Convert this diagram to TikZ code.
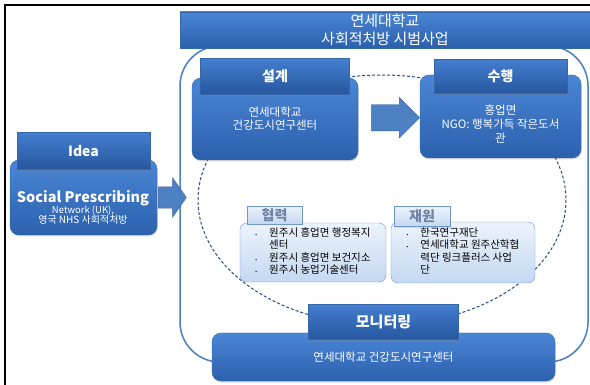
\documentclass[tikz,border=0pt]{standalone}
\usepackage{fontspec}
\setmainfont{Noto Sans CJK KR}
\usetikzlibrary{positioning, calc, shapes.arrows, shadows}

\definecolor{frameblue}{RGB}{75,125,195}
\definecolor{loopblue}{RGB}{40,75,140}
\definecolor{boxtop}{RGB}{74,134,214}
\definecolor{boxbottom}{RGB}{44,96,172}
\definecolor{boxedge}{RGB}{52,102,172}
\definecolor{tabtop}{RGB}{68,126,206}
\definecolor{tabbottom}{RGB}{38,86,158}
\definecolor{lighttop}{RGB}{236,243,252}
\definecolor{lightbottom}{RGB}{196,216,242}
\definecolor{lightedge}{RGB}{112,150,208}
\definecolor{tabgray}{RGB}{112,130,165}
\definecolor{arrowblue}{RGB}{78,128,196}
\definecolor{arrowedge}{RGB}{55,95,160}

\begin{document}
\begin{tikzpicture}
    [
        x=1pt, y=-1pt,
        blue_box/.style={rectangle, rounded corners=9pt, draw=boxedge, top color=boxtop, bottom color=boxbottom, text=white, align=center, inner sep=0pt, drop shadow={opacity=0.3, shadow xshift=0.8pt, shadow yshift=-1.5pt}},
        blue_tab/.style={rectangle, draw=boxedge, top color=tabtop, bottom color=tabbottom, text=white, inner sep=0pt, font=\fontsize{14}{16}\selectfont\bfseries, drop shadow={opacity=0.35, shadow xshift=0.8pt, shadow yshift=-1.5pt}},
        light_box/.style={rectangle, rounded corners=7pt, draw=lightedge, top color=lighttop, bottom color=lightbottom, inner sep=0pt, font=\fontsize{10.5}{12.5}\selectfont},
        light_tab/.style={rectangle, draw=lightedge, top color=lighttop, bottom color=lightbottom, text=tabgray, inner sep=0pt, font=\fontsize{14}{16}\selectfont\bfseries, drop shadow={opacity=0.2, shadow xshift=0.6pt, shadow yshift=-1pt}},
        white_text/.style={text=white, align=center, inner sep=0pt},
        big_arrow/.style={single arrow, draw=arrowedge, fill=arrowblue, inner sep=0pt, text width=0pt},
        frame_line/.style={draw=frameblue, line width=1.5pt, rounded corners=40pt},
        loop_line/.style={draw=loopblue, line width=1pt, dash pattern=on 3pt off 2pt},
    ]
    \useasboundingbox (0,0) rectangle (590,385);
    \draw[line width=1.2pt] (5,385) -- (5,5) -- (590,5);

    % outer frame and the dashed cycle
    \node[frame_line, minimum width=408pt, minimum height=316pt] (frame) at (384,204) {};
    \draw[loop_line] (382,200) ellipse [x radius=184, y radius=125];

    \node[blue_box, rounded corners=0pt, minimum width=410pt, minimum height=36pt, font=\fontsize{15}{18}\selectfont] (title) at (385,30) {연세대학교\\사회적처방 시범사업};

    % idea
    \node[blue_box, minimum width=147pt, minimum height=75pt] (ideaBody) at (83.5,197.5) {};
    \node[blue_tab, minimum width=133pt, minimum height=37pt] (ideaTab) [above=-10pt of ideaBody] {Idea};
    \node[white_text] (ideaText) at (83,207) {{\fontsize{14.5}{15}\selectfont\bfseries Social Prescribing}\\[-1pt]{\fontsize{9.5}{10}\selectfont Network (UK),}\\[-2pt]{\fontsize{10}{10}\selectfont 영국 NHS 사회적처방}};
    \node[big_arrow, text height=10.5pt, text depth=10.5pt, minimum height=28pt, single arrow head extend=9pt, single arrow tip angle=110] (ideaArrow) [right=1pt of ideaBody] {};

    % design
    \node[blue_box, minimum width=166pt, minimum height=82pt, font=\fontsize{11.5}{13}\selectfont] (designBody) at (275,119) {연세대학교\\건강도시연구센터};
    \node[blue_tab, minimum width=149pt, minimum height=36pt] (designTab) [above=-17pt of designBody] {설계};

    % do
    \node[blue_box, minimum width=161pt, minimum height=83pt] (doBody) at (500.5,116.5) {};
    \node[blue_tab, minimum width=133pt, minimum height=34pt] (doTab) [above=-19pt of doBody] {수행};
    \node[white_text, font=\fontsize{11.5}{14}\selectfont] (doText) at (500.5,124) {흥업면\\NGO: 행복가득 작은도서\\관};
    \node[big_arrow, text height=13pt, text depth=13pt, minimum height=48pt, single arrow head extend=7pt] (designArrow) at ($(designBody.east)!0.5!(doBody.west)$) {};

    % partners
    \node[light_box, minimum width=146pt, minimum height=59pt] (partnerBody) at (313,252.5) {\begin{tabular}{@{}l@{\hspace{12pt}}l@{}}
        {\tiny•} & 원주시 흥업면 행정복지\\
         & 센터\\
        {\tiny•} & 원주시 흥업면 보건지소\\
        {\tiny•} & 원주시 농업기술센터
    \end{tabular}};
    \node[light_tab, minimum width=55pt, minimum height=18pt] (partnerTab) [above right=-1.5pt and 7pt of partnerBody.north west] {협력};

    % funding
    \node[light_box, minimum width=144pt, minimum height=61pt] (fundBody) at (463,252.5) {\begin{tabular}{@{}l@{\hspace{12pt}}l@{}}
        {\tiny•} & 한국연구재단\\
        {\tiny•} & 연세대학교 원주산학협\\
         & 력단 링크플러스 사업\\
         & 단
    \end{tabular}};
    \node[light_tab, minimum width=56pt, minimum height=20pt] (fundTab) [above right=-5pt and 3pt of fundBody.north west] {재원};

    % monitoring
    \node[blue_box, minimum width=343pt, minimum height=48pt, font=\fontsize{11.5}{13}\selectfont] (monitorBody) at (383.5,357) {연세대학교 건강도시연구센터};
    \node[blue_tab, minimum width=150pt, minimum height=35pt, font=\fontsize{15}{16}\selectfont\bfseries] (monitorTab) [above=-7pt of monitorBody] {모니터링};
\end{tikzpicture}
\end{document}
